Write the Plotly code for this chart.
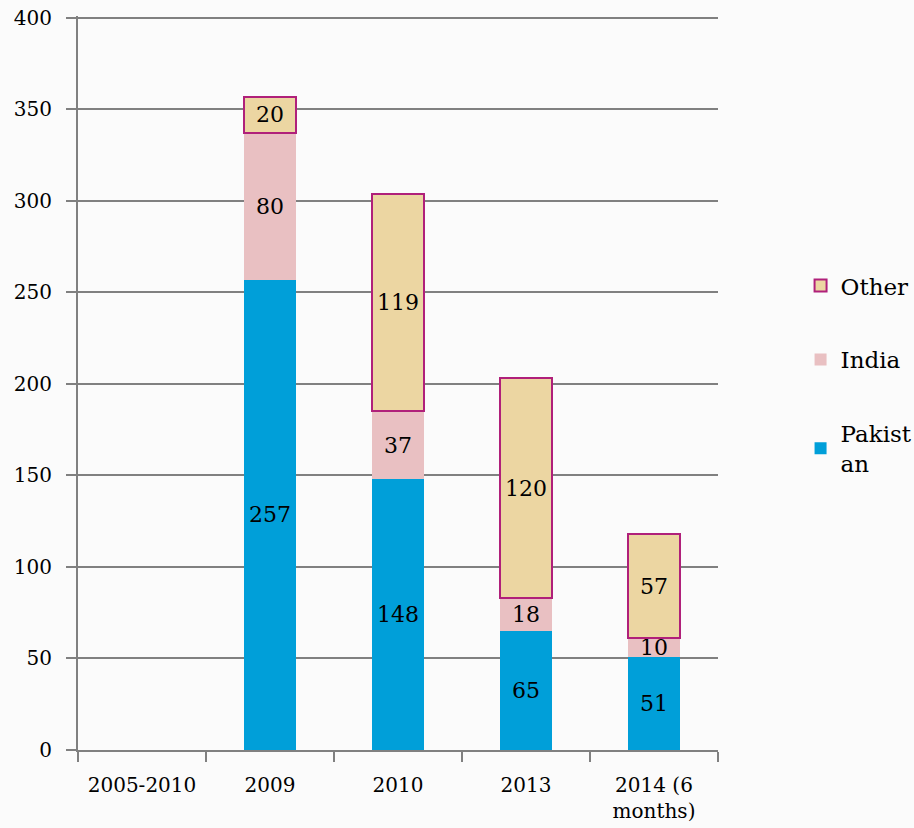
import plotly.graph_objects as go

categories = ["2005-2010", "2009", "2010", "2013", "2014 (6<br>months)"]
pakistan = [None, 257, 148, 65, 51]
india = [None, 80, 37, 18, 10]
other = [None, 20, 119, 120, 57]
y_ticks = [0, 50, 100, 150, 200, 250, 300, 350, 400]

FONT = "DejaVu Serif"

def labels(vals):
    return ["" if v is None else str(v) for v in vals]

fig = go.Figure()
fig.add_trace(go.Bar(
    name="Pakist<br>an", x=categories, y=pakistan,
    marker=dict(color="#009fd9", line=dict(width=0)),
    text=labels(pakistan), textangle=0,
    textposition="inside", insidetextanchor="middle", constraintext="none",
    textfont=dict(family=FONT, size=22, color="black"),
    legendgroup="p", legendrank=3,
))
fig.add_trace(go.Bar(
    name="India", x=categories, y=india,
    marker=dict(color="#e9c0c2", line=dict(width=0)),
    text=labels(india), textangle=0,
    textposition="inside", insidetextanchor="middle", constraintext="none",
    textfont=dict(family=FONT, size=22, color="black"),
    legendgroup="i", legendrank=2,
))
fig.add_trace(go.Bar(
    name="Other", x=categories, y=other,
    marker=dict(color="#ecd6a2", line=dict(width=2, color="#b0207a")),
    text=labels(other), textangle=0,
    textposition="inside", insidetextanchor="middle", constraintext="none",
    textfont=dict(family=FONT, size=22, color="black"),
    legendgroup="o", legendrank=1,
))

fig.update_layout(
    width=914, height=828,
    barmode="stack", bargap=0.59,
    paper_bgcolor="#fbfbfb", plot_bgcolor="#fbfbfb",
    margin=dict(l=78, r=196, t=16, b=78, autoexpand=False),
    font=dict(family=FONT, size=20, color="black"),
    showlegend=True,
    legend=dict(x=1.129, y=0.662, xanchor="left", yanchor="top",
                tracegroupgap=41,
                font=dict(family=FONT, size=23, color="black"),
                bgcolor="rgba(0,0,0,0)", itemwidth=30),
    xaxis=dict(showline=True, linecolor="#808080", linewidth=2,
               ticks="outside", tickson="boundaries", ticklen=10,
               tickcolor="#808080", tickwidth=2, showgrid=False,
               ticklabelstandoff=16, automargin=False,
               tickfont=dict(family=FONT, size=20)),
    yaxis=dict(range=[0, 401], tickvals=y_ticks, showline=True,
               linecolor="#808080", linewidth=2, ticks="outside",
               ticklen=10, tickcolor="#808080", tickwidth=2,
               showgrid=True, gridcolor="#808080", gridwidth=2,
               zeroline=False, ticklabeloverflow="allow",
               ticklabelstandoff=10, automargin=False,
               tickfont=dict(family=FONT, size=20)),
)

fig.write_html("out.html",
               config={"displayModeBar": False},
               post_script="document.body.style.margin='0';"
                           "document.body.style.overflow='hidden';")
